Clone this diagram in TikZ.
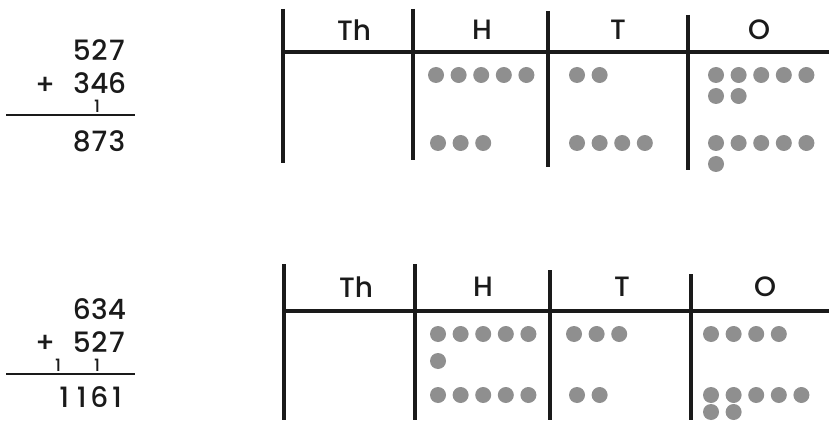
\documentclass[tikz,border=0pt]{standalone}
\usepackage{fontspec}
\setmainfont{Poppins}[UprightFont=* Medium]
\usetikzlibrary{positioning}
\definecolor{ink}{HTML}{1A1A1A}
\definecolor{chipgray}{HTML}{8F8F8F}
\tikzset{
  rule/.style={line width=3.2pt,color=ink},
  sumline/.style={line width=2.4pt,color=ink},
  digits/.style={font=\fontsize{28}{28}\selectfont,text=ink,inner sep=0pt,anchor=east},
  carry/.style={font=\fontsize{17}{17}\selectfont,text=ink,inner sep=0pt},
  head/.style={font=\fontsize{28}{28}\selectfont,text=ink,inner sep=0pt},
  chip/.style={fill=chipgray},
}
% one column of a sum
\newcommand{\dg}[1]{\makebox[17.6pt]{#1}}
% a row of counters: x of first, y, how many
\newcommand{\chiprow}[3]{\foreach \k in {1,...,#3} \fill[chip] (#1+22.6*\k-22.6,#2) circle (8pt);}

\begin{document}
\begin{tikzpicture}[x=1pt,y=-1pt]
  \useasboundingbox (0,0) rectangle (829,422);

  % first sum
  \node[digits] (a1) at (126,50) {\dg5\dg2\dg7};
  \node[digits] (b1) at (126,83) {\dg3\dg4\dg6};
  \node[head] (plus1) at (45,86) {+};
  \node[carry] (c1) at (97,106) {1};
  \coordinate (l1) at (6,115);
  \coordinate (r1) at (135,115);
  \draw[sumline] (l1) -- (r1);
  \node[digits] (s1) at (126,141) {\dg8\dg7\dg3};

  % second sum
  \node[digits] (a2) at (126,309) {\dg6\dg3\dg4};
  \node[digits] (b2) at (126,342) {\dg5\dg2\dg7};
  \node[head] (plus2) at (45,344) {+};
  \node[carry] (c2) at (58,365) {1};
  \node[carry] (c3) at (97,365) {1};
  \coordinate (l2) at (6,374);
  \coordinate (r2) at (135,374);
  \draw[sumline] (l2) -- (r2);
  \node[digits] (s2) at (126,397) {\dg1\dg1\dg6\dg1};

  % first place value chart
  \node[head] (th1) at (354,30) {Th};
  \node[head] (h1) at (482,30) {H};
  \node[head] (t1) at (618,30) {T};
  \node[head] (o1) at (759,30) {O};
  \draw[rule] (283,52) -- (829,52);
  \draw[rule] (283,9) -- (283,163);
  \draw[rule] (413,9) -- (413,160);
  \draw[rule] (548,11) -- (548,167);
  \draw[rule] (688,15) -- (688,170);
  \chiprow{436}{75}{5}
  \chiprow{577}{75}{2}
  \chiprow{716}{75}{5}
  \chiprow{716}{96}{2}
  \chiprow{438}{143}{3}
  \chiprow{577}{143}{4}
  \chiprow{716}{143}{5}
  \chiprow{716}{164}{1}

  % second place value chart
  \node[head] (th2) at (356,287) {Th};
  \node[head] (h2) at (483,287) {H};
  \node[head] (t2) at (622,287) {T};
  \node[head] (o2) at (765,287) {O};
  \draw[rule] (284,311) -- (829,311);
  \draw[rule] (284,264) -- (284,420);
  \draw[rule] (415,264) -- (415,420);
  \draw[rule] (550,270) -- (550,420);
  \draw[rule] (691,274) -- (691,420);
  \chiprow{438}{334}{5}
  \chiprow{438}{361}{1}
  \chiprow{574}{334}{3}
  \chiprow{711}{334}{4}
  \chiprow{438}{395}{5}
  \chiprow{577}{395}{2}
  \chiprow{711}{395}{5}
  \chiprow{711}{412}{2}
\end{tikzpicture}
\end{document}
